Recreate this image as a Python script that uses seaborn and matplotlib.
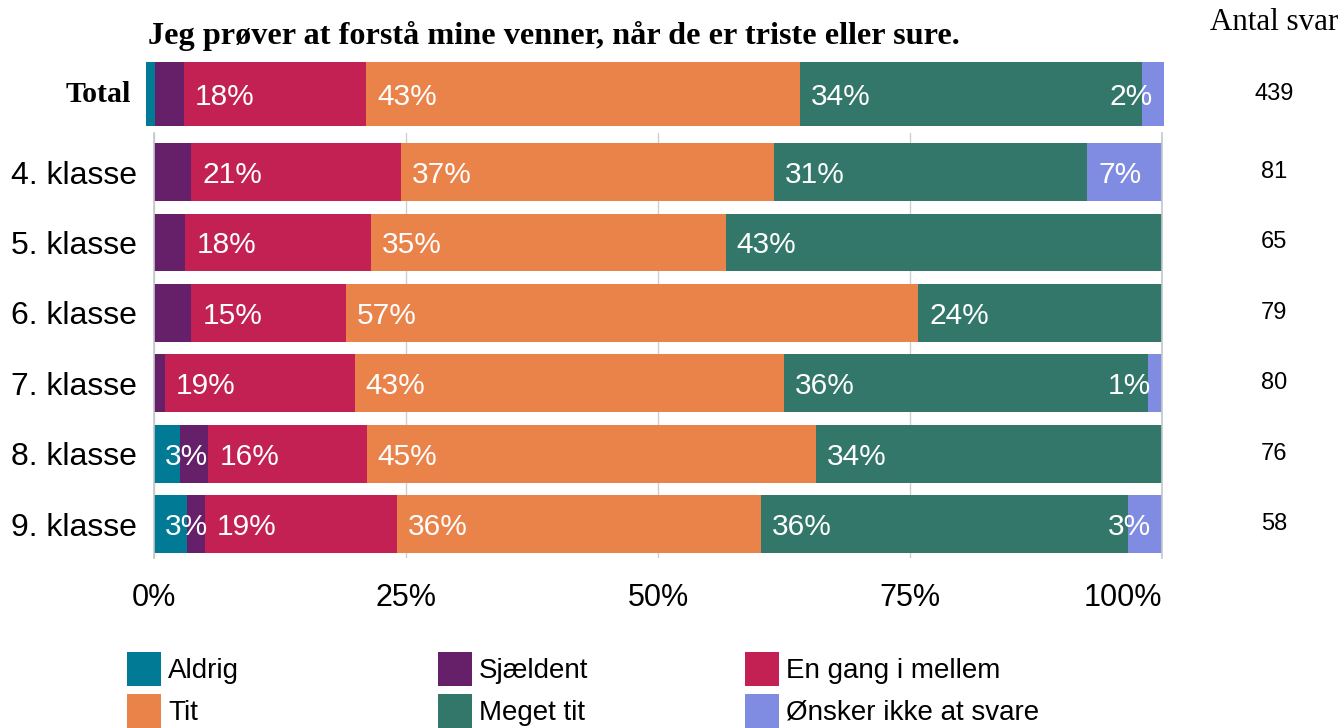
import matplotlib
matplotlib.use("Agg")
import matplotlib.pyplot as plt
import seaborn as sns
import numpy as np
import pandas as pd
from matplotlib.patches import Rectangle

# Response categories and their colours
categories = ["Aldrig", "Sjældent", "En gang i mellem", "Tit", "Meget tit", "Ønsker ikke at svare"]
colors = ["#017a96", "#66206a", "#c32054", "#ea834a", "#32776a", "#808ce1"]

# Shares (%) for all pupils
total_label = "Total"
total_values = [0.9, 2.8, 17.9, 42.6, 33.6, 2.2]
total_count = 439

# Shares (%) per grade
groups = ["4. klasse", "5. klasse", "6. klasse", "7. klasse", "8. klasse", "9. klasse"]
aldrig = [0.0, 0.0, 0.0, 0.0, 2.6, 3.3]
sjaeldent = [3.7, 3.1, 3.7, 1.1, 2.8, 1.8]
en_gang = [20.8, 18.4, 15.3, 18.8, 15.7, 19.0]
tit = [37.0, 35.2, 56.8, 42.6, 44.6, 36.1]
meget_tit = [31.1, 43.3, 24.2, 36.1, 34.3, 36.4]
oensker_ikke = [7.4, 0.0, 0.0, 1.4, 0.0, 3.4]
counts = [81, 65, 79, 80, 76, 58]

x_ticks = [0, 25, 50, 75, 100]
x_ticklabels = ["0%", "25%", "50%", "75%", "100%"]

title = "Jeg prøver at forstå mine venner, når de er triste eller sure."
count_header = "Antal svar"

sns.set_style("white")
plt.rcParams["font.family"] = ["Liberation Sans", "DejaVu Sans"]
plt.rcParams["text.color"] = "black"
plt.rcParams["xtick.color"] = "black"
plt.rcParams["ytick.color"] = "black"

W, H = 1343, 728
fig = plt.figure(figsize=(W / 100, H / 100), dpi=100)

ax_tot = fig.add_axes([146 / W, (H - 128) / H, 1018 / W, 68 / H])
ax = fig.add_axes([154 / W, (H - 558) / H, 1008 / W, 425 / H])

group_values = np.array([aldrig, sjaeldent, en_gang, tit, meget_tit, oensker_ikke]).T
label_pad = 1.1


def draw_stack(axis, names, values, bar_width):
    values = np.asarray(values, dtype=float)
    ends = np.cumsum(values, axis=1)
    starts = ends - values
    # Overlay cumulative bars from the longest to the shortest
    for i in reversed(range(len(categories))):
        df = pd.DataFrame({"name": names, "end": ends[:, i]})
        sns.barplot(data=df, x="end", y="name", orient="h", color=colors[i],
                    saturation=1, width=bar_width, linewidth=0, ax=axis)
    for r in range(values.shape[0]):
        for i, cat in enumerate(categories):
            v = values[r, i]
            if v < 1 or cat == "Sjældent":
                continue
            text = f"{int(v + 0.5)}%"
            last = i == len(categories) - 1
            if last and v < 5:
                axis.text(100 - label_pad, r, text, ha="right", va="center_baseline",
                          color="white", fontsize=21.5)
            else:
                axis.text(starts[r, i] + label_pad, r, text, ha="left",
                          va="center_baseline", color="white", fontsize=21.5)


# Total bar
draw_stack(ax_tot, [total_label], [total_values], 0.94)
ax_tot.set_xlim(0, 100)
ax_tot.set_ylim(0.5, -0.5)
ax_tot.set_xticks([])
ax_tot.set_yticks([])
ax_tot.set_xlabel("")
ax_tot.set_ylabel("")
for s in ax_tot.spines.values():
    s.set_visible(False)
ax_tot.text(-0.015, 0.0, total_label, transform=ax_tot.get_yaxis_transform(),
            ha="right", va="center", fontsize=21.5, fontweight="bold",
            family="Liberation Serif")
ax_tot.text(1.108, 0.0, str(total_count), transform=ax_tot.get_yaxis_transform(),
            ha="center", va="center", fontsize=17)

# Grade bars
ax.set_axisbelow(True)
draw_stack(ax, groups, group_values, 0.82)
ax.set_xlim(0, 100)
ax.set_ylim(5.48, -0.554)
ax.set_xticks(x_ticks)
ax.set_xticklabels(x_ticklabels, fontsize=22)
ax.get_xticklabels()[-1].set_horizontalalignment("right")
ax.tick_params(axis="x", length=0, pad=18)
ax.tick_params(axis="y", length=0, pad=12, labelsize=23)
ax.set_xlabel("")
ax.set_ylabel("")
ax.xaxis.grid(True, color="#cfcfcf", linewidth=1)
ax.yaxis.grid(False)
for side in ["top", "bottom"]:
    ax.spines[side].set_visible(False)
for side in ["left", "right"]:
    ax.spines[side].set_color("#c4c8cc")
    ax.spines[side].set_linewidth(1.2)
for r, n in enumerate(counts):
    ax.text(1.111, r, str(n), transform=ax.get_yaxis_transform(),
            ha="center", va="center", fontsize=17)

# Title and column header
fig.text(148 / W, (H - 36) / H, title, ha="left", va="center", fontsize=23.2,
         fontweight="bold", family="Liberation Serif")
fig.text(1210 / W, (H - 22) / H, count_header, ha="left", va="center", fontsize=22.3,
         family="Liberation Serif")

# Legend: three columns, two rows
legend_cols = [127, 438, 745]
legend_rows = [669, 711]
box = 34
for i, cat in enumerate(categories):
    col = legend_cols[i % 3]
    row = legend_rows[i // 3]
    fig.add_artist(Rectangle((col / W, (H - row - box / 2) / H), box / W, box / H,
                             transform=fig.transFigure, facecolor=colors[i],
                             edgecolor="none"))
    fig.text((col + box + 7) / W, (H - row - 2) / H, cat, ha="left", va="center",
             fontsize=20)

fig.savefig("out.png", dpi=100)
